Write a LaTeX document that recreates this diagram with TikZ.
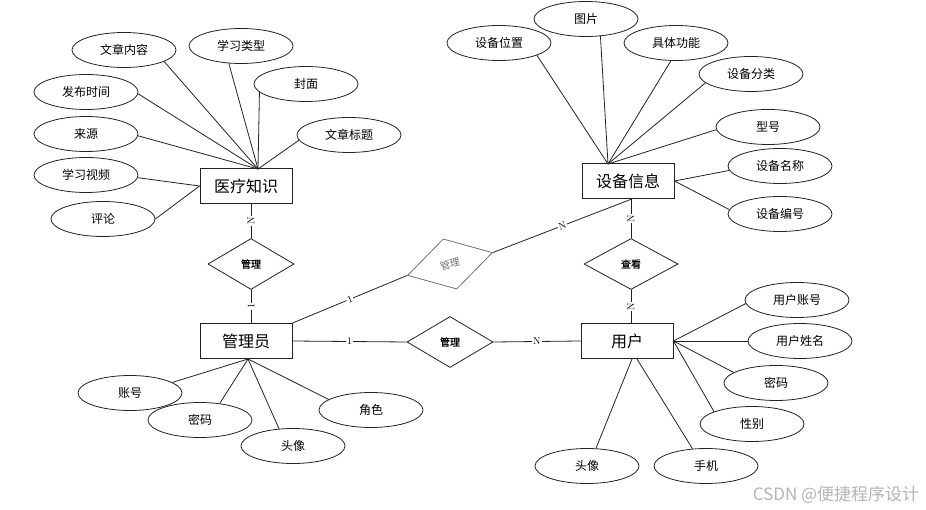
\documentclass[tikz,border=0pt]{standalone}
\usepackage{fontspec}
\newfontfamily\cjk{Noto Sans CJK SC}
\newfontfamily\cjkbold[FakeBold=1.2]{Noto Sans CJK SC}
\usetikzlibrary{shapes.geometric}
\definecolor{erInk}{HTML}{222222}
\definecolor{erGray}{HTML}{707070}
\definecolor{erMark}{HTML}{B4B4B4}
\tikzset{
  er entity/.style={draw=erInk, line width=0.9pt, minimum width=92pt, minimum height=35pt, inner sep=0pt, font=\cjk\fontsize{16}{18}\selectfont},
  er attr/.style={ellipse, draw=erInk, line width=0.8pt, minimum width=104pt, minimum height=35pt, inner sep=0pt, font=\cjk\fontsize{12}{14}\selectfont},
  er rel/.style={diamond, draw=erInk, line width=0.8pt, minimum width=86pt, minimum height=51pt, inner sep=0pt, font=\cjkbold\fontsize{10}{12}\selectfont},
  er link/.style={draw=erInk, line width=0.8pt},
  er card/.style={fill=white, inner sep=1pt, font=\fontsize{10}{12}\selectfont},
  er mark/.style={inner sep=0pt, text=erMark, font=\cjk\fontsize{17}{19}\selectfont},
}

\begin{document}
\begin{tikzpicture}[x=1pt,y=-1pt]
  \useasboundingbox (0,0) rectangle (926,510);

  % Entities
  \node[er entity] (yl) at (246,186) {医疗知识};
  \node[er entity] (sb) at (628,181) {设备信息};
  \node[er entity] (gly) at (246,341) {管理员};
  \node[er entity] (yh) at (627,341) {用户};

  % Relationships
  \node[er rel] (r1) at (251,264) {管理};
  \node[er rel, minimum width=94pt] (ck) at (631,264) {查看};
  \node[er rel] (r2) at (450,342) {管理};
  \node[er rel, rotate=15, minimum width=88pt, minimum height=52pt, draw=erGray, text=erGray, font=\cjk\fontsize{10}{12}\selectfont] (r3) at (450,264) {管理};

  \draw[er link] (yl.south -| r1) -- node[er card, rotate=90] {N} (r1.north);
  \draw[er link] (r1.south) -- node[er card, rotate=90] {1} (r1.south |- gly.north);
  \draw[er link] (sb.south -| ck) -- node[er card, rotate=90] {N} (ck.north);
  \draw[er link] (ck.south) -- node[er card, rotate=90] {N} (ck.south |- yh.north);
  \draw[er link] (gly.east) -- node[er card] {1} (r2.west);
  \draw[er link] (r2.east) -- node[er card] {N} (yh.west);
  \draw[er link] (gly.north east) -- node[er card, sloped] {1} (r3.west);
  \draw[er link] (r3.east) -- node[er card, sloped] {N} ([xshift=4pt]sb.south);

  % Meeting points of the attribute lines
  \coordinate (yltop) at (258,169);
  \coordinate (sbtop) at (608,164);
  \coordinate (glbot) at (248,359);
  \coordinate (yhs1) at (632,359);
  \coordinate (yhs2) at (637,359);

  % Attributes
  \foreach \n/\x/\y/\t/\a/\e in {
    yl1/124/50/文章内容/-16/yltop,
    yl2/241/46/学习类型/235/yltop,
    yl3/306/84/封面/190/yltop,
    yl4/86/92/发布时间/-2/yltop,
    yl5/86/134/来源/-2/yltop,
    yl6/349/135/文章标题/186/yltop,
    yl7/86/175/学习视频/-3/yl.west,
    yl8/103/219/评论/0/yl.west,
    sb1/499/43/设备位置/-18/sbtop,
    sb2/586/19/图片/-50/sbtop,
    sb3/676/43/具体功能/254/sbtop,
    sb4/751/74/设备分类/191/sbtop,
    sb5/768/127/型号/183/sbtop,
    sb6/780/166/设备名称/185/sb.east,
    sb7/780/214/设备编号/175/sb.east,
    gl1/130/393/账号/14/glbot,
    gl2/200/420/密码/40/glbot,
    gl3/293/446/头像/129/glbot,
    gl4/371/410/角色/166/glbot,
    yh1/797/300/用户账号/184/yh.east,
    yh2/800/341/用户姓名/180/yh.east,
    yh3/776/383/密码/166/yh.east,
    yh4/752/424/性别/162/yh.east,
    yh5/587/466/头像/63/yhs1,
    yh6/706/466/手机/128/yhs2} {
    \node[er attr] (\n) at (\x,\y) {\t};
    \draw[er link] (\n.\a) -- (\e);
  }

  \node[er mark] (wm) at (836,495) {CSDN @便捷程序设计};
\end{tikzpicture}
\end{document}
